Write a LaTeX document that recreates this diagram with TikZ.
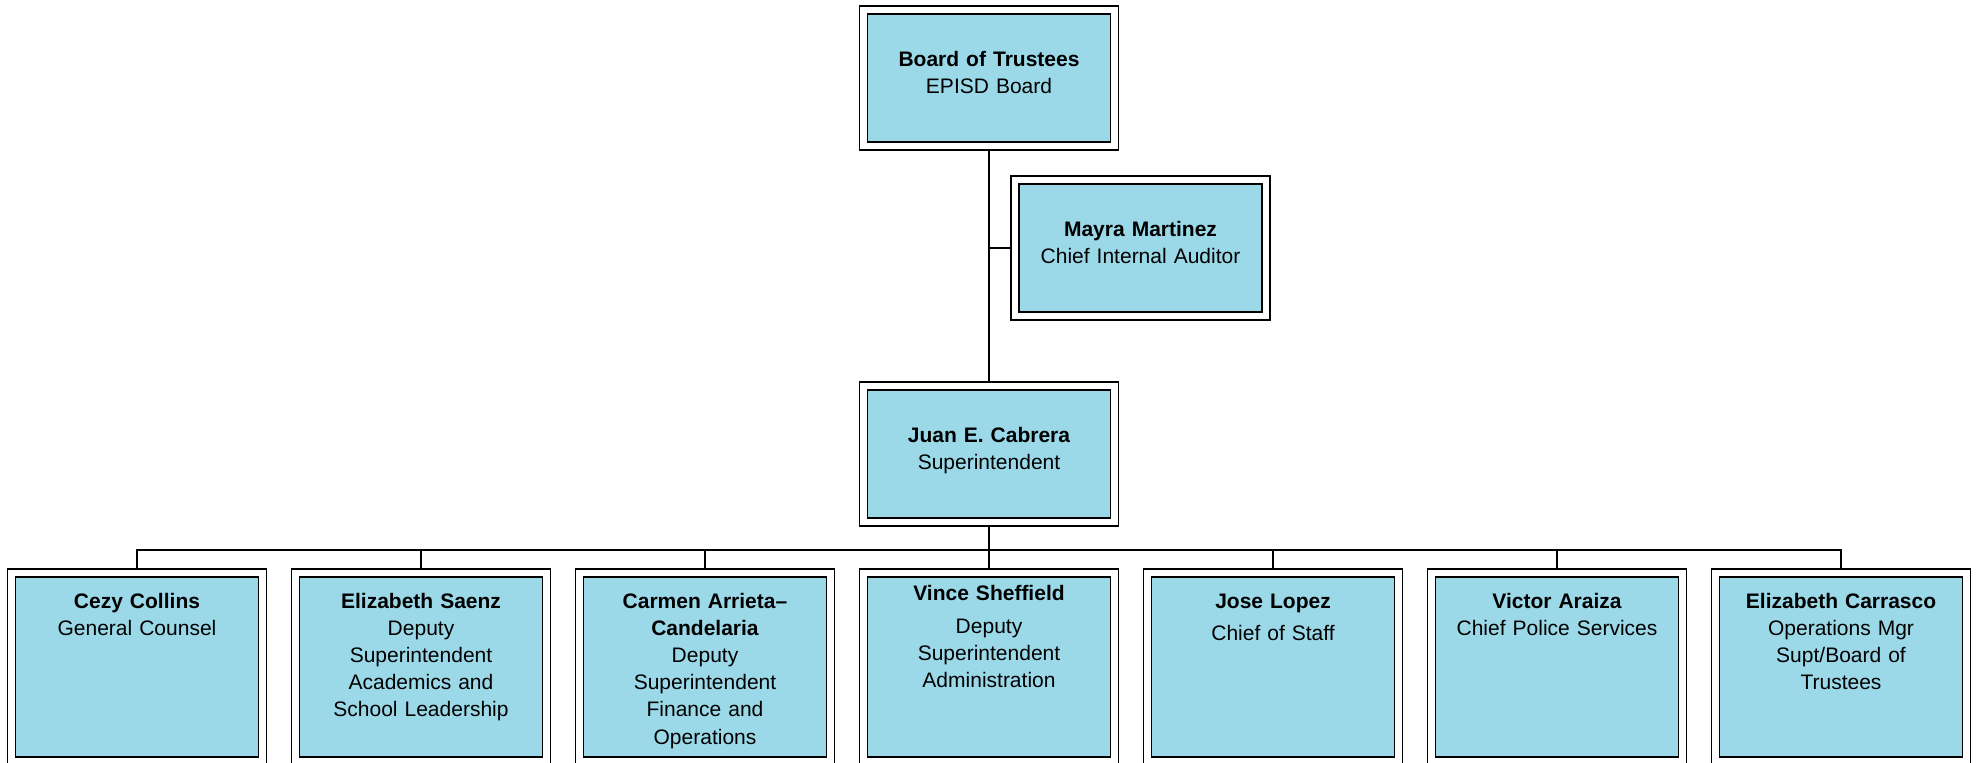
\documentclass[tikz,border=0pt]{standalone}
\usepackage{fontspec}
\setmainfont{Liberation Sans}
\usepackage{xcolor}
\definecolor{boxblue}{RGB}{155,217,233}
\tikzstyle{org-box} = [draw=black, line width=0.8pt, double=white,
    double distance=3.1pt, fill=boxblue, rectangle, inner sep=0pt,
    outer sep=2.35pt, minimum width=125.5pt, minimum height=68pt,
    text width=118pt, align=center, text height=7pt, text depth=19pt,
    font=\fontsize{10.5pt}{13.6pt}\selectfont]
\tikzstyle{staff-box} = [org-box, minimum height=94pt,
    text height=17.5pt, text depth=76.5pt]
\tikzstyle{org-line} = [draw=black, line width=0.7pt]

\begin{document}
\begin{tikzpicture}[x=0.5pt, y=-0.5pt]
\useasboundingbox (0,0) rectangle (1979,762);
\node [org-box] (board) at (989,78) {\textbf{Board of Trustees}\\EPISD Board};
\node [org-box] (mayra) at (1140.5,248) {\textbf{Mayra Martinez}\\Chief Internal Auditor};
\node [org-box] (juan) at (989,454) {\textbf{Juan E. Cabrera}\\Superintendent};
\node [staff-box] (cezy) at (137,667) {\textbf{Cezy Collins}\\General Counsel};
\node [staff-box] (saenz) at (421,667) {\textbf{Elizabeth Saenz}\\Deputy\\Superintendent\\Academics and\\School Leadership};
\node [staff-box] (carmen) at (705,667) {\textbf{Carmen Arrieta–}\\\textbf{Candelaria}\\Deputy\\Superintendent\\Finance and\\Operations};
\node [staff-box, text height=13.5pt, text depth=80.5pt] (vince) at (989,667) {\textbf{Vince Sheffield}\\[3pt]Deputy\\Superintendent\\Administration};
\node [staff-box] (jose) at (1273,667) {\textbf{Jose Lopez}\\[2.5pt]Chief of Staff};
\node [staff-box] (araiza) at (1557,667) {\textbf{Victor Araiza}\\Chief Police Services};
\node [staff-box] (carrasco) at (1841,667) {\textbf{Elizabeth Carrasco}\\Operations Mgr\\Supt/Board of\\Trustees};
\coordinate (bus) at (989,550);
\draw [org-line] (board) -- (juan);
\draw [org-line] (mayra.west) -- (mayra.west -| board.south);
\draw [org-line] (juan.south) -- (bus);
\draw [org-line] (cezy.north) |- (bus) -| (carrasco.north);
\draw [org-line] (saenz.north) -- (saenz.north |- bus);
\draw [org-line] (carmen.north) -- (carmen.north |- bus);
\draw [org-line] (vince.north) -- (vince.north |- bus);
\draw [org-line] (jose.north) -- (jose.north |- bus);
\draw [org-line] (araiza.north) -- (araiza.north |- bus);
\end{tikzpicture}
\end{document}
